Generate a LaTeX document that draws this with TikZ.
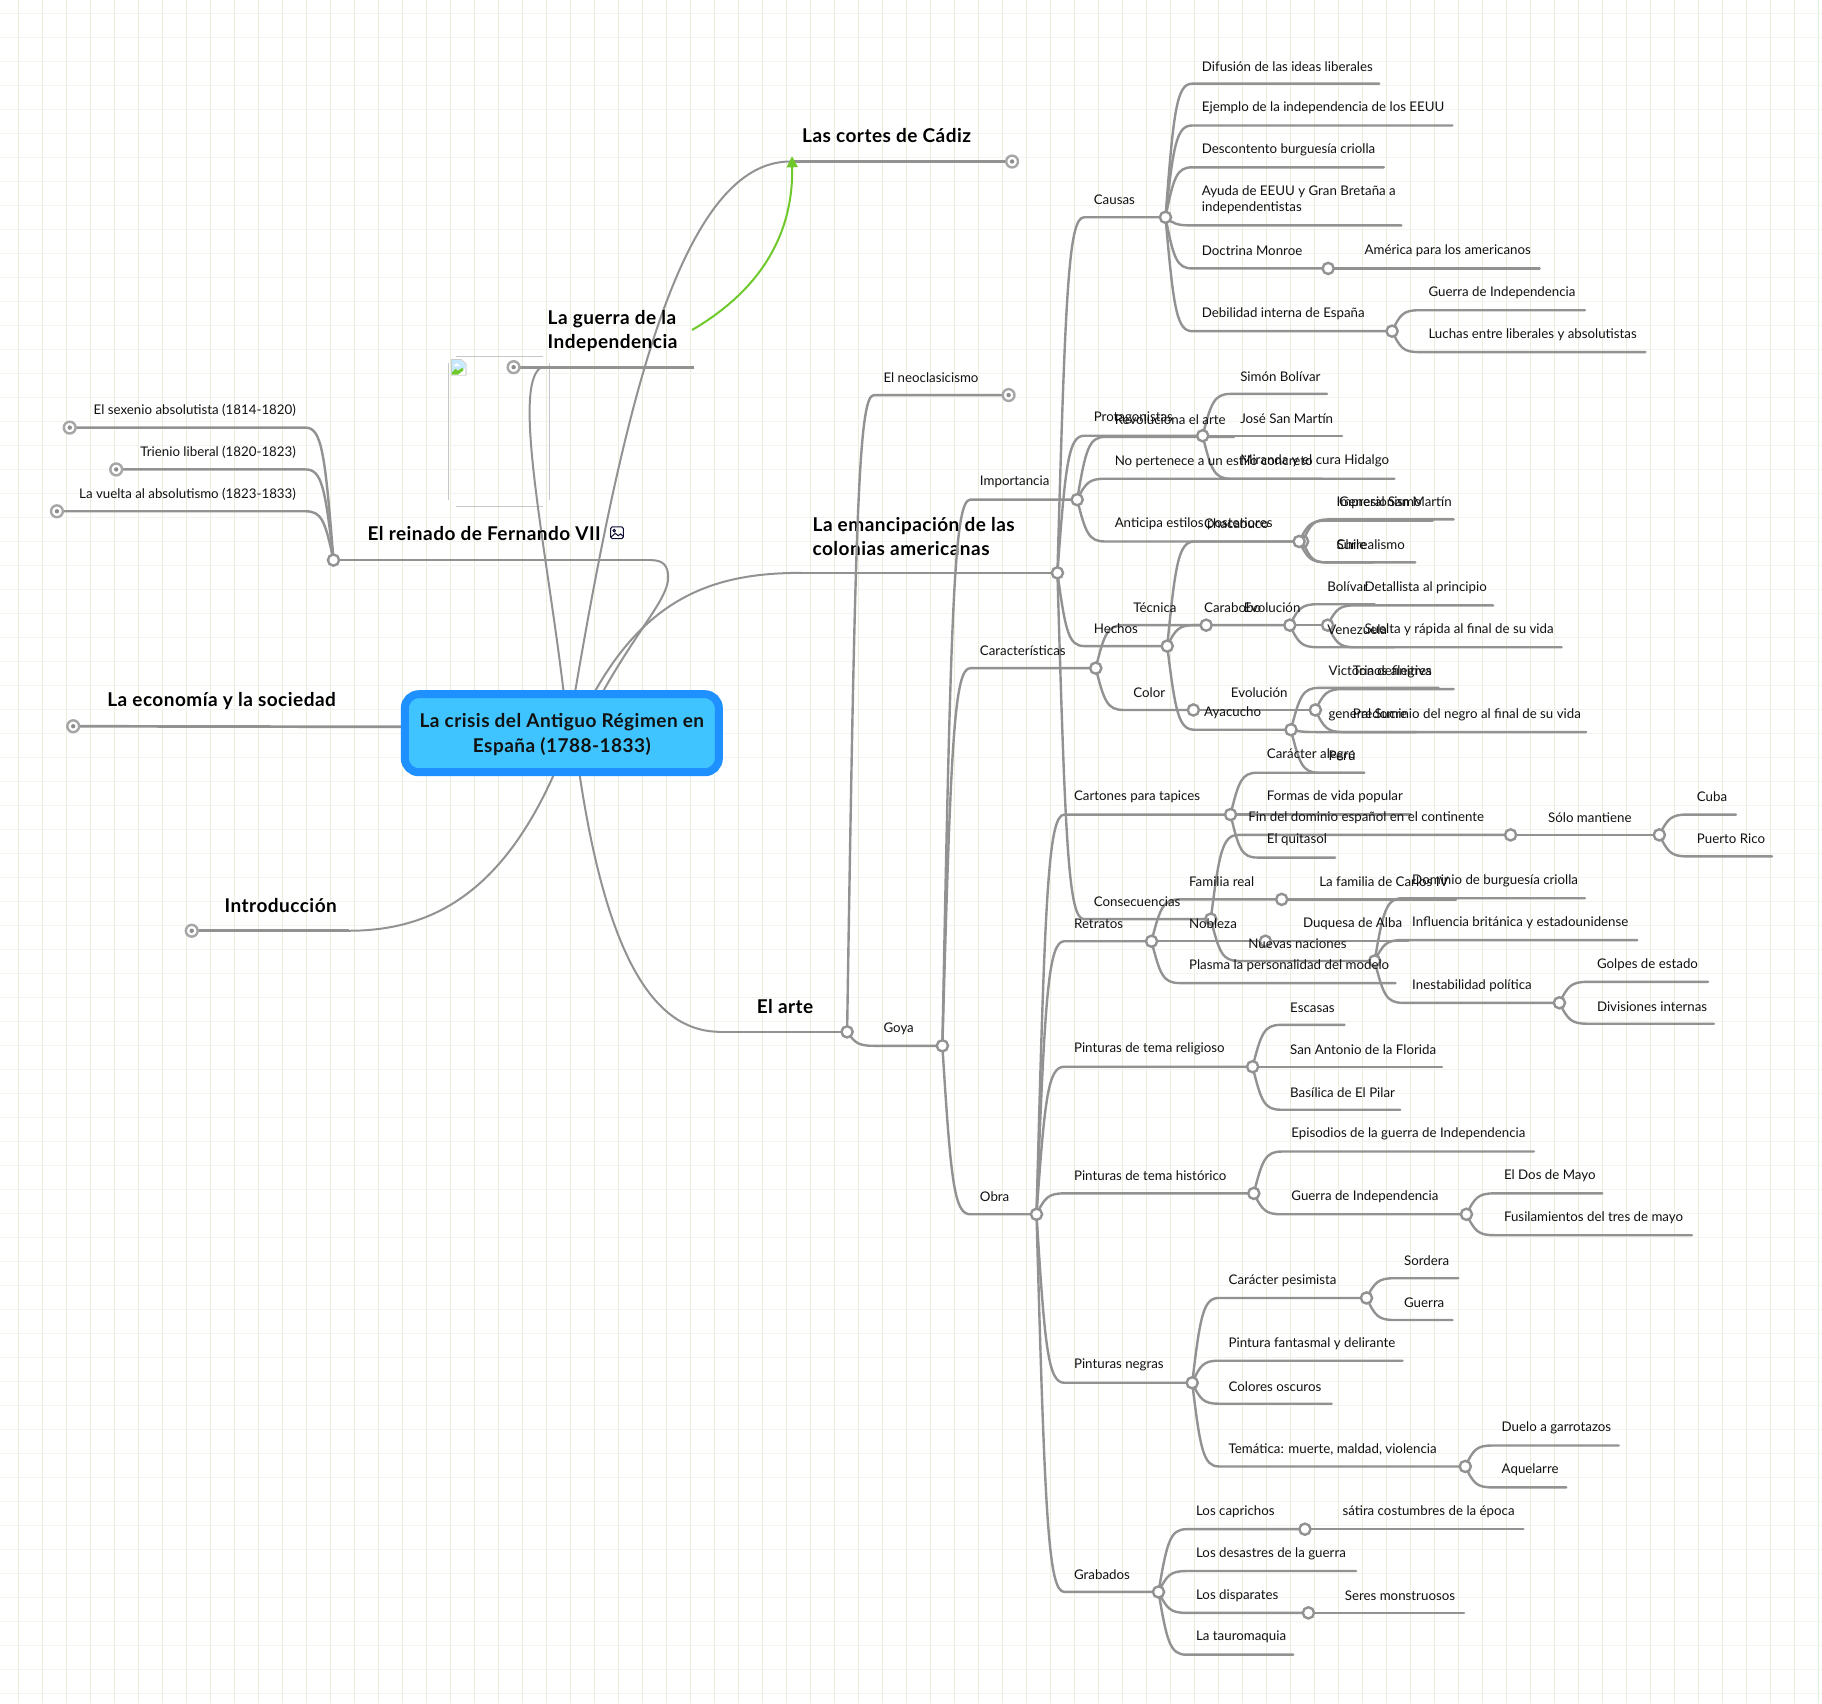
\documentclass[tikz,border=0pt]{standalone}
\usepackage{fontspec}
\setmainfont{Lato}
\newfontfamily\ttlfont[LetterSpace=2.5,BoldFont={Lato Bold}]{Lato}
\usetikzlibrary{calc,arrows.meta}
\pgfdeclarelayer{fg}
\pgfsetlayers{main,fg}
\definecolor{cgray}{HTML}{929292}
\definecolor{ringgray}{HTML}{A6A6A6}
\definecolor{gridv}{HTML}{E6EFDA}
\definecolor{gridh}{HTML}{F1F5EB}
\definecolor{rootfill}{HTML}{3FC4FF}
\definecolor{rootedge}{HTML}{1E90FF}
\definecolor{arrowgreen}{HTML}{6FC92C}
\definecolor{ink}{HTML}{111111}
\tikzset{
  conn/.style={draw=cgray,line width=1.2pt,line cap=round},
  firstconn/.style={draw=cgray,line width=1pt,line cap=round},
  mainconn/.style={draw=cgray,line width=1.35pt},
  lbl/.style={anchor=west,inner sep=0pt,align=left,text=ink,font=\fontsize{6.65}{8.2}\selectfont},
  lblr/.style={lbl,anchor=east},
  ttl/.style={anchor=west,inner sep=0pt,align=left,text=black,font=\ttlfont\fontsize{9.5}{12.2}\selectfont\bfseries},
  jnode/.style={circle,draw=cgray,fill=white,line width=1.2pt,minimum size=5.6pt,inner sep=0pt},
  jleaf/.style={circle,draw=ringgray,fill=white,line width=1.2pt,minimum size=5.9pt,inner sep=0pt,
    path picture={\fill[ringgray!85!black] (path picture bounding box.center) circle (1.1pt);}},
}
\newcommand{\jn}[3]{\begin{pgfonlayer}{fg}\node[jnode] (#1) at (#2,#3) {};\end{pgfonlayer}}
\newcommand{\jl}[3]{\begin{pgfonlayer}{fg}\node[jleaf] (#1) at (#2,#3) {};\end{pgfonlayer}}
% parent, name, text x, line y, end node, text
\newcommand{\kidj}[7][15]{%
  \coordinate (#3-k) at (#4-8,#5);
  \draw[conn] let \p1=(#2.center),\p2=(#3-k) in (#2.center)
    .. controls ({\x1+0.3*(\x2-\x1)},{\y1+0.8*(\y2-\y1)}) and ({\x1+0.42*(\x2-\x1)},\y2) .. (#3-k) -- (#6.center);
  \begin{pgfonlayer}{fg}\node[lbl] (#3) at (#4,#5-#1) {#7};\end{pgfonlayer}}
\newcommand{\kid}[7][15]{%
  \coordinate (#3-e) at (#6,#5);
  \kidj[#1]{#2}{#3}{#4}{#5}{#3-e}{#7}}
\newcommand{\kidl}[6]{%
  \coordinate (#2-k) at (#3+8,#4);
  \draw[conn] let \p1=(#1.center),\p2=(#2-k) in (#1.center)
    .. controls ({\x1+0.3*(\x2-\x1)},{\y1+0.8*(\y2-\y1)}) and ({\x1+0.42*(\x2-\x1)},\y2) .. (#2-k) -- (#5.center);
  \begin{pgfonlayer}{fg}\node[lblr] (#2) at (#3,#4-15) {#6};\end{pgfonlayer}}
\begin{document}
\begin{tikzpicture}[x=0.58099pt,y=-0.58099pt]
\useasboundingbox (0,0) rectangle (1568,1465.6);
\fill[white] (0,0) rectangle (1568,1465.6);
\foreach \i in {0,...,75} \draw[gridv,line width=0.5pt] ({(18.3+24*\i)/1.16199},0) -- ({(18.3+24*\i)/1.16199},1465.6);
\foreach \i in {0,...,70} \draw[gridh,line width=0.5pt] (0,{(13.3+24*\i)/1.16199}) -- (1568,{(13.3+24*\i)/1.16199});

% broken image placeholder
\draw[gray!45,line width=0.5pt] (392,307) -- (467,307) (392,435.6) -- (467,435.6) (386,312) -- (386,430) (472.6,312) -- (472.6,430);
\fill[white,draw=gray!60,line width=0.3pt] (388.5,309.5) -- (397,309.5) -- (401,313.5) -- (401,322.8) -- (388.5,322.8) -- cycle;
\fill[blue!40!cyan!22] (389,310) -- (396.5,310) -- (400.5,314) -- (400.5,317) -- (389,320) -- cycle;
\fill[white] (390,315) -- (393,312.5) -- (396,315) -- cycle;
\fill[arrowgreen] (389,322.5) -- (389,320.5) -- (392,317.5) -- (394,319) -- (398,316.5) -- (399,318.5) -- (394,322.5) -- cycle;

% junctions
\jn{jEm}{910}{493}\jn{jArte}{729}{888}\jn{jFern}{287}{482}
\jl{lCortes}{871}{139}\jl{lGuerra}{442}{316}\jl{lEco}{63}{625}\jl{lIntro}{165}{801}
\jl{lSex}{60}{368}\jl{lTri}{100}{404}\jl{lVue}{49}{440}\jl{lNeo}{868}{340}
\jn{jCausas}{1003}{187}\jn{jMonroe}{1143}{231}\jn{jDebil}{1198}{285}
\jn{jProta}{1035}{375}\jn{jHechos}{1004.5}{556}\jn{jChaca}{1121}{466}\jn{jCara}{1110}{538}\jn{jAya}{1111}{628}
\jn{jCons}{1042}{791}\jn{jFin}{1300}{718.5}\jn{jSolo}{1428}{718.5}\jn{jNuevas}{1183}{827}\jn{jInest}{1342}{863}
\jn{jGoya}{811}{900}\jn{jImp}{927}{430}\jn{jCar}{943}{575}\jn{jObra}{892}{1045}
\jn{jAnt}{1118}{466}\jn{jTec}{1038}{538}\jn{jEvoA}{1142.5}{538}\jn{jCol}{1027}{611}\jn{jEvoB}{1132}{611}
\jn{jCart}{1059}{701}\jn{jRet}{991}{810}\jn{jFam}{1103}{774}\jn{jNob}{1089}{810}
\jn{jRel}{1078}{918}\jn{jHis}{1079}{1027}\jn{jGue}{1262}{1045}
\jn{jNeg}{1026}{1190}\jn{jPes}{1176}{1117}\jn{jTem}{1261}{1262}
\jn{jGra}{997}{1370}\jn{jCap}{1123}{1316}\jn{jDis}{1126}{1388}

% root
\begin{pgfonlayer}{fg}
\node[draw=rootedge,fill=rootfill,line width=4pt,rounded corners=7pt,minimum width=157pt,minimum height=39pt,inner sep=0pt] (root) at (483.5,631) {};
\node[inner sep=0pt,align=center,text=ink,font=\ttlfont\fontsize{9.5}{12.2}\selectfont\bfseries] (rootText) at (483.5,632) {La crisis del Antiguo Régimen en\\España (1788-1833)};
\end{pgfonlayer}

% first level
\coordinate (rCortes) at (680,139);
\draw[firstconn] (495,595) .. controls (540,330) and (590,139) .. (rCortes);
\draw[mainconn] (rCortes) -- (lCortes.center);
\node[ttl] (tCortes) at (690,116.5) {Las cortes de Cádiz};

\coordinate (rGuerraA) at (466,316);
\coordinate (rGuerraB) at (597,316);
\draw[firstconn] (485,595) .. controls (470,470) and (440,330) .. (rGuerraA);
\draw[mainconn] (lGuerra.center) -- (rGuerraB);
\node[ttl] (tGuerra) at (471,285) {La guerra de la\\Independencia};

\coordinate (rFern) at (560,482);
\draw[firstconn] (519,595) .. controls (550,540) and (575,515) .. (575,497) .. controls (575,487) and (571,482) .. (rFern);
\draw[mainconn] (rFern) -- (jFern.center);
\node[ttl] (tFern) at (316,459) {El reinado de Fernando VII};

\coordinate (rEm) at (690,493);
\draw[firstconn] (512,595) .. controls (560,510) and (620,493) .. (rEm);
\draw[mainconn] (rEm) -- (jEm.center);
\node[ttl] (tEm) at (699,461.5) {La emancipación de las\\colonias americanas};

\coordinate (rArte) at (620,888);
\draw[firstconn] (499,668) .. controls (525,840) and (570,888) .. (rArte);
\draw[mainconn] (rArte) -- (jArte.center);
\node[ttl] (tArte) at (651,866) {El arte};

\coordinate (rIntro) at (300,801);
\draw[firstconn] (476,668) .. controls (430,770) and (370,801) .. (rIntro);
\draw[mainconn] (rIntro) -- (lIntro.center);
\node[ttl] (tIntro) at (193,779) {Introducción};

\draw[mainconn] (root.west |- 0,625.5) -- (lEco.center);
\node[ttl] (tEco) at (92,603.5) {La economía y la sociedad};

% picture icon next to the Fernando VII title
\draw[draw=ink!85!blue,line width=0.5pt,rounded corners=0.8pt] (525.5,453.5) rectangle (536.5,463.5);
\draw[ink!85!blue,line width=0.5pt] (528.6,456.6) circle (1.1) (526,462) -- (529.5,459) -- (532,461) -- (534,459.5) -- (536.2,461.5);

% arrow
\coordinate (arrA) at (595.6,284);
\coordinate (arrB) at (681.6,134.5);
\draw[arrowgreen,line width=1pt,-{Triangle[length=5.5pt,width=5.5pt]}] (arrA) .. controls (640,258) and (683,215) .. (arrB);

% Fernando VII
\kidl{jFern}{nSex}{255}{368}{lSex}{El sexenio absolutista (1814-1820)}
\kidl{jFern}{nTri}{255}{404}{lTri}{Trienio liberal (1820-1823)}
\kidl{jFern}{nVue}{255}{440}{lVue}{La vuelta al absolutismo (1823-1833)}

% emancipation
\kidj{jEm}{nCausas}{941}{187}{jCausas}{Causas}
\kid{jCausas}{nDif}{1034}{72}{1187}{Difusión de las ideas liberales}
\kid{jCausas}{nEje}{1034}{108}{1250}{Ejemplo de la independencia de los EEUU}
\kid{jCausas}{nDes}{1034}{144}{1191}{Descontento burguesía criolla}
\kid[22]{jCausas}{nAyu}{1034}{194}{1206}{Ayuda de EEUU y Gran Bretaña a\\independentistas}
\kidj{jCausas}{nMon}{1034}{231}{jMonroe}{Doctrina Monroe}
\kid{jMonroe}{nAme}{1174}{231}{1325}{América para los americanos}
\kidj{jCausas}{nDeb}{1034}{285}{jDebil}{Debilidad interna de España}
\kid{jDebil}{nGdI}{1229}{267}{1364}{Guerra de Independencia}
\kid{jDebil}{nLuc}{1229}{303}{1416}{Luchas entre liberales y absolutistas}

\kidj{jEm}{nProta}{941}{375}{jProta}{Protagonistas}
\kid{jProta}{nSim}{1067}{339}{1142}{Simón Bolívar}
\kid{jProta}{nJos}{1067}{375}{1155}{José San Martín}
\kid{jProta}{nMir}{1067}{412}{1200}{Miranda y el cura Hidalgo}

\kidj{jEm}{nHechos}{941}{556}{jHechos}{Hechos}
\kidj{jHechos}{nChaca}{1036}{466}{jChaca}{Chacabuco}
\kid{jChaca}{nGen}{1152}{447}{1251}{General San Martín}
\kid{jChaca}{nChi}{1150}{484}{1182}{Chile}
\kidj{jHechos}{nCara}{1036}{538}{jCara}{Carabobo}
\kid{jCara}{nBol}{1142}{520}{1183}{Bolívar}
\kid{jCara}{nVen}{1142}{557}{1200}{Venezuela}
\kidj{jHechos}{nAya}{1036}{628}{jAya}{Ayacucho}
\kid{jAya}{nVic}{1143}{592}{1238}{Victoria definitiva}
\kid{jAya}{nSuc}{1143}{630}{1219}{general Sucre}
\kid{jAya}{nPer}{1143}{665}{1174}{Perú}

\kidj{jEm}{nCons}{941}{791}{jCons}{Consecuencias}
\kidj{jCons}{nFin}{1074}{718.5}{jFin}{Fin del dominio español en el continente}
\kidj{jFin}{nSolo}{1332}{718.5}{jSolo}{Sólo mantiene}
\kid{jSolo}{nCub}{1460}{701}{1494}{Cuba}
\kid{jSolo}{nPue}{1460}{737}{1525}{Puerto Rico}
\kidj{jCons}{nNue}{1074}{827}{jNuevas}{Nuevas naciones}
\kid{jNuevas}{nDom}{1215}{773}{1364}{Dominio de burguesía criolla}
\kid{jNuevas}{nInf}{1215}{809}{1409}{Influencia británica y estadounidense}
\kidj{jNuevas}{nIne}{1215}{863}{jInest}{Inestabilidad política}
\kid{jInest}{nGol}{1374}{845}{1470}{Golpes de estado}
\kid{jInest}{nDiv}{1374}{881}{1475}{Divisiones internas}

% art
\kidj{jArte}{nNeo}{760}{340}{lNeo}{El neoclasicismo}
\kidj{jArte}{nGoya}{760}{900}{jGoya}{Goya}
\kidj{jGoya}{nImp}{843}{430}{jImp}{Importancia}
\kid{jImp}{nRev}{959}{376}{1062}{Revoluciona el arte}
\kid{jImp}{nNoP}{959}{412}{1138}{No pertenece a un estilo concreto}
\kidj{jImp}{nAnt}{959}{466}{jAnt}{Anticipa estilos posteriores}
\kid{jAnt}{nImpr}{1150}{448}{1233}{Impresionismo}
\kid{jAnt}{nSur}{1150}{484}{1218}{Surrealismo}

\kidj{jGoya}{nCar}{843}{575}{jCar}{Características}
\kidj{jCar}{nTec}{975}{538}{jTec}{Técnica}
\kidj{jTec}{nEvoA}{1070}{538}{jEvoA}{Evolución}
\kid{jEvoA}{nDet}{1174}{521}{1285}{Detallista al principio}
\kid{jEvoA}{nSue}{1174}{557}{1344}{Suelta y rápida al final de su vida}
\kidj{jCar}{nCol}{975}{611}{jCol}{Color}
\kidj{jCol}{nEvoB}{1059}{611}{jEvoB}{Evolución}
\kid{jEvoB}{nTon}{1164}{593}{1251}{Tonos alegres}
\kid{jEvoB}{nPre}{1164}{630}{1365}{Predominio del negro al final de su vida}

\kidj{jGoya}{nObra}{843}{1045}{jObra}{Obra}
\kidj{jObra}{nCart}{924}{701}{jCart}{Cartones para tapices}
\kid{jCart}{nAle}{1090}{665}{1174}{Carácter alegre}
\kid{jCart}{nFor}{1090}{701}{1214}{Formas de vida popular}
\kid{jCart}{nQui}{1090}{738}{1149}{El quitasol}
\kidj{jObra}{nRet}{924}{810}{jRet}{Retratos}
\kidj{jRet}{nFam}{1023}{774}{jFam}{Familia real}
\kid{jFam}{nCIV}{1135}{774}{1253}{La familia de Carlos IV}
\kidj{jRet}{nNob}{1023}{810}{jNob}{Nobleza}
\kid{jNob}{nDuq}{1121}{810}{1212}{Duquesa de Alba}
\kid{jRet}{nPla}{1023}{846}{1201}{Plasma la personalidad del modelo}
\kidj{jObra}{nRel}{924}{918}{jRel}{Pinturas de tema religioso}
\kid{jRel}{nEsc}{1110}{882}{1157}{Escasas}
\kid{jRel}{nSan}{1110}{918}{1241}{San Antonio de la Florida}
\kid{jRel}{nBas}{1110}{955}{1205}{Basílica de El Pilar}
\kidj{jObra}{nHis}{924}{1027}{jHis}{Pinturas de tema histórico}
\kid{jHis}{nEpi}{1111}{991}{1320}{Episodios de la guerra de Independencia}
\kidj{jHis}{nGue}{1111}{1045}{jGue}{Guerra de Independencia}
\kid{jGue}{nDos}{1294}{1027}{1379}{El Dos de Mayo}
\kid{jGue}{nFus}{1294}{1063}{1456}{Fusilamientos del tres de mayo}
\kidj{jObra}{nNeg}{924}{1190}{jNeg}{Pinturas negras}
\kidj{jNeg}{nPes}{1057}{1117}{jPes}{Carácter pesimista}
\kid{jPes}{nSor}{1208}{1100}{1255}{Sordera}
\kid{jPes}{nGa}{1208}{1136}{1250}{Guerra}
\kid{jNeg}{nFan}{1057}{1171}{1207}{Pintura fantasmal y delirante}
\kid{jNeg}{nOsc}{1057}{1208}{1146}{Colores oscuros}
\kidj{jNeg}{nTem}{1057}{1262}{jTem}{Temática: muerte, maldad, violencia}
\kid{jTem}{nDue}{1292}{1244}{1393}{Duelo a garrotazos}
\kid{jTem}{nAqu}{1292}{1280}{1348}{Aquelarre}
\kidj{jObra}{nGra}{924}{1370}{jGra}{Grabados}
\kidj{jGra}{nCap}{1029}{1316}{jCap}{Los caprichos}
\kid{jCap}{nSat}{1155}{1316}{1311}{sátira costumbres de la época}
\kid{jGra}{nDes}{1029}{1352}{1167}{Los desastres de la guerra}
\kidj{jGra}{nDis}{1029}{1388}{jDis}{Los disparates}
\kid{jDis}{nSer}{1157}{1388}{1260}{Seres monstruosos}
\kid{jGra}{nTau}{1029}{1424}{1113}{La tauromaquia}
\end{tikzpicture}
\end{document}
